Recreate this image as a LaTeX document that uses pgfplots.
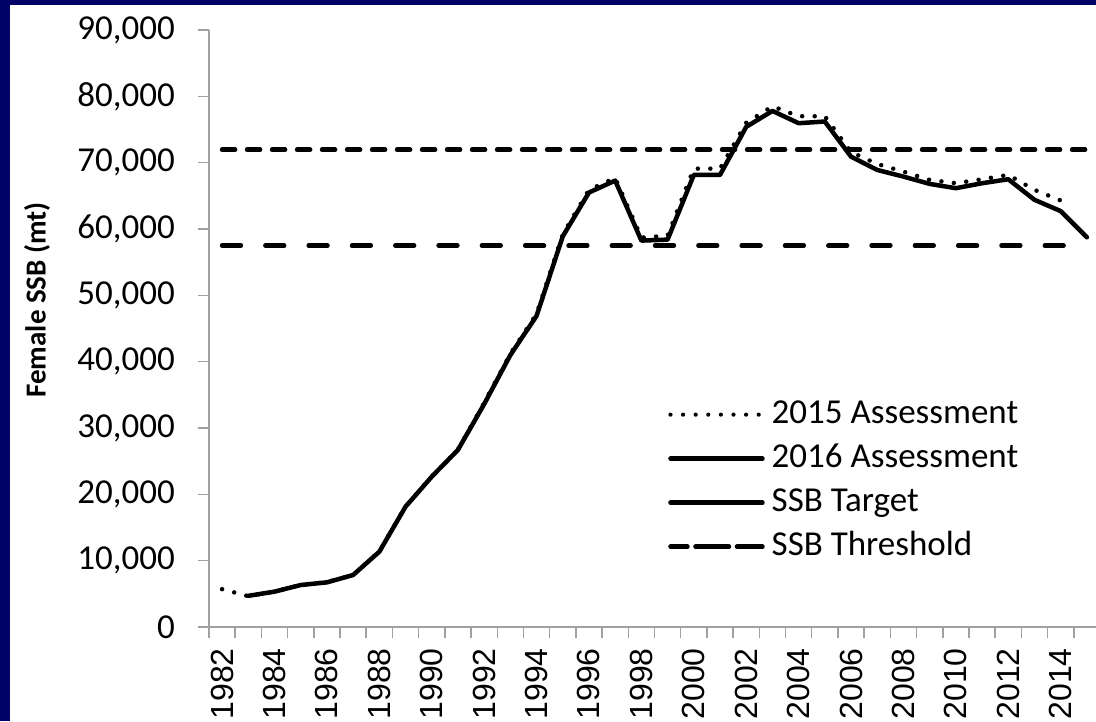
\documentclass[border=0pt]{standalone}
\usepackage{fontspec}
\setmainfont{Carlito}
\newfontfamily\xfont{Liberation Sans}
\usepackage{pgfplots}
\usepackage{pgfplotstable}
\pgfplotsset{compat=1.18}
\definecolor{navybg}{RGB}{0,0,102}
\definecolor{axgray}{RGB}{160,160,160}

\pgfplotstableread{
year ssb
1982 5700
1983 4650
1984 5350
1985 6350
1986 6750
1987 7850
1988 11400
1989 18200
1990 22700
1991 26750
1992 33800
1993 41200
1994 47200
1995 59200
1996 65900
1997 67700
1998 58700
1999 59000
2000 69100
2001 69100
2002 76000
2003 78500
2004 77000
2005 77000
2006 71600
2007 69800
2008 68650
2009 67400
2010 66900
2011 67500
2012 68150
2013 65900
2014 64300
}\assessA

\pgfplotstableread{
year ssb
1983 4700
1984 5330
1985 6330
1986 6730
1987 7840
1988 11350
1989 18140
1990 22660
1991 26700
1992 33600
1993 41000
1994 46900
1995 58900
1996 65500
1997 67300
1998 58250
1999 58400
2000 68150
2001 68150
2002 75400
2003 77800
2004 75950
2005 76200
2006 70900
2007 68900
2008 67900
2009 66800
2010 66150
2011 66900
2012 67500
2013 64400
2014 62700
2015 58750
}\assessB

\pgfplotstableread{
year ssb
1982 71950
2015 71950
}\target

\pgfplotstableread{
year ssb
1982 57500
2015 57500
}\threshold

\begin{document}
\begin{tikzpicture}[x=1pt,y=1pt]
\useasboundingbox (0,0) rectangle (1096,721);
\clip (0,0) rectangle (1096,721);
\fill[navybg] (0,0) rectangle (1096,721);
\fill[white] (10,0) rectangle (1096,716);
\begin{axis}[
  at={(209pt,94pt)}, anchor=south west,
  scale only axis, width=891pt, height=597pt,
  xmin=1981.5, xmax=2015.5, ymin=0, ymax=90000,
  axis x line*=bottom, axis y line*=left,
  axis line style={axgray, line width=1.5pt, -},
  xtick={1981.5,1982.5,...,2015.5},
  xticklabels={},
  extra x ticks={1982,1984,...,2014},
  extra x tick style={major tick length=0pt, tick style={draw=none},
    xticklabel style={font=\xfont\fontsize{32}{38}\selectfont, rotate=90, anchor=east, inner sep=0pt, xshift=-21pt, /pgf/number format/1000 sep={}}},
  tick style={axgray, line width=1.5pt},
  major tick length=11pt,
  tick align=outside,
  ytick={0,10000,...,90000},
  scaled y ticks=false,
  /pgf/number format/assume math mode=true,
  yticklabel style={font=\fontsize{35}{42}\selectfont, inner sep=0pt, xshift=-23pt, /pgf/number format/1000 sep={,}},
  ylabel={Female SSB (mt)},
  ylabel style={font=\bfseries\fontsize{29}{34}\selectfont, at={(axis description cs:-0.193,0.548)}, anchor=center},
  legend image code/.code={\draw[#1] (0pt,0pt) -- (92pt,0pt);},
  legend cell align=left,
  legend style={at={(axis description cs:0.5152,0.382)}, anchor=north west, draw=none, fill=none, inner sep=0pt, row sep=13pt, column sep=7pt, font=\fontsize{35}{42}\selectfont, nodes={inner sep=0pt, text height=24pt, text depth=7pt}},
]
\addplot[forget plot, black, line width=4.5pt, line cap=round, dash pattern=on 0pt off 12.5pt] table[x=year,y=ssb]{\assessA};
\addplot[forget plot, black, line width=4.5pt, line join=round, line cap=round] table[x=year,y=ssb]{\assessB};
\addplot[forget plot, black, line width=4.5pt, line cap=round, dash pattern=on 13pt off 12pt] table[x=year,y=ssb]{\target};
\addplot[forget plot, black, line width=4.5pt, line cap=round, dash pattern=on 18.8pt off 24.5pt] table[x=year,y=ssb]{\threshold};
\addlegendimage{black, line width=4.2pt, line cap=round, dash pattern=on 0pt off 12.6pt}
\addlegendentry{2015 Assessment}
\addlegendimage{black, line width=4.5pt, line cap=round}
\addlegendentry{2016 Assessment}
\addlegendimage{black, line width=4.5pt, line cap=round}
\addlegendentry{SSB Target}
\addlegendimage{black, line width=4.5pt, line cap=round, dash pattern=on 33.5pt off 8pt, dash phase=16.5pt}
\addlegendentry{SSB Threshold}
\end{axis}
\end{tikzpicture}
\end{document}
